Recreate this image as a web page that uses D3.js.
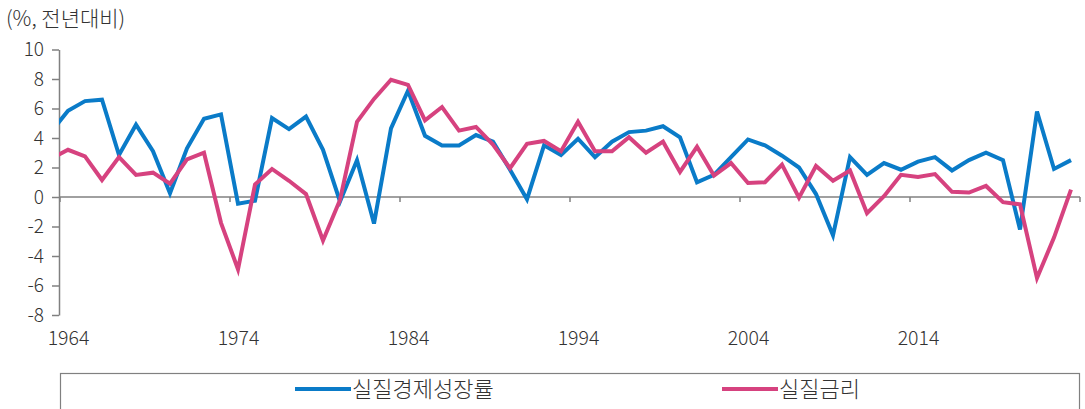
<!DOCTYPE html>
<html>
<head>
<meta charset="utf-8">
<script src="https://cdn.jsdelivr.net/npm/d3@7"></script>
<style>
body { margin: 0; background: #fff; }
text { font-family: "Noto Sans CJK KR", "Noto Sans", sans-serif; font-weight: 300; fill: #333; }
</style>
</head>
<body>
<svg></svg>
<script>
// years 1963..2023 (1963 is cut off at the axis)
const YEARS = d3.range(1963, 2024);

const GROWTH = [
    4.4, 5.85, 6.5, 6.6, 2.85, 4.9, 3.1, 0.25, 3.3, 5.3,
    5.6, -0.45, -0.25, 5.35, 4.6, 5.45, 3.2, -0.3, 2.5, -1.8,
    4.65, 7.2, 4.15, 3.5, 3.5, 4.2, 3.75, 1.85, -0.15, 3.5,
    2.85, 3.95, 2.7, 3.75, 4.4, 4.5, 4.8, 4.05, 1.0, 1.5,
    2.7, 3.9, 3.5, 2.8, 2.0, 0.2, -2.6, 2.7, 1.5, 2.3,
    1.85, 2.4, 2.7, 1.8, 2.5, 3.0, 2.5, -2.2, 5.8, 1.9,
    2.5
];

const REAL_RATE = [
    2.6, 3.2, 2.75, 1.15, 2.7, 1.5, 1.65, 0.9, 2.55, 3.0,
    -1.75, -4.9, 0.85, 1.9, 1.1, 0.2, -2.95, -0.2, 5.1, 6.65,
    7.95, 7.6, 5.2, 6.1, 4.5, 4.75, 3.55, 1.95, 3.6, 3.8,
    3.1, 5.1, 3.1, 3.1, 4.05, 3.0, 3.75, 1.7, 3.4, 1.45,
    2.3, 0.95, 1.0, 2.2, -0.05, 2.1, 1.1, 1.8, -1.1, 0.05,
    1.5, 1.35, 1.55, 0.35, 0.3, 0.75, -0.35, -0.5, -5.5, -2.75,
    0.5
];

const SERIES = [
    {name: "실질경제성장률", values: GROWTH, color: "#0a7bc8"},
    {name: "실질금리", values: REAL_RATE, color: "#d6427f"}
];

const Y_TICKS = [-8, -6, -4, -2, 0, 2, 4, 6, 8, 10];
const X_LABELS = [1964, 1974, 1984, 1994, 2004, 2014];
const X_BREAKS = [1964, 1974, 1984, 1994, 2004, 2014, 2024];

const WIDTH = 1085;
const HEIGHT = 409;
const PLOT = {left: 59, right: 1080, top: 49.5, bottom: 315};

const svg = d3.select('svg')
.attr('width', WIDTH)
.attr('height', HEIGHT)
;

//scales
const xScale = d3.scaleLinear().domain([1964, 2023]).range([68, 68 + 59 * 17]);
const yScale = d3.scaleLinear().domain([-8, 10]).range([PLOT.bottom, PLOT.top]);

//unit label
svg.append('text')
.attr('x', 6)
.attr('y', 26)
.style('font-size', '21px')
.text('(%, 전년대비)')
;

//y axis
const yAxis = svg.append('g')
.attr('transform', `translate(${PLOT.left}, 0)`)
.call(d3.axisLeft(yScale).tickValues(Y_TICKS).tickFormat(d => String(d)).tickSize(7).tickPadding(8).tickSizeOuter(0))
;
yAxis.selectAll('line, path').attr('stroke', '#808080').attr('stroke-width', 1.5);
yAxis.selectAll('text').style('font-size', '19px').attr('fill', '#333');

//zero line with ticks between categories
const zeroAxis = svg.append('g')
.attr('transform', `translate(0, ${yScale(0)})`)
.call(d3.axisBottom(xScale).tickValues(X_BREAKS.map(d => d - 0.5)).tickFormat('').tickSize(5).tickSizeOuter(0))
;
zeroAxis.select('.domain').attr('d', `M${PLOT.left},0H${PLOT.right}`);
zeroAxis.selectAll('line, path').attr('stroke', '#808080').attr('stroke-width', 1.5);

//year labels
const xLabels = svg.append('g')
.attr('transform', `translate(0, ${PLOT.bottom + 13})`)
.call(d3.axisBottom(xScale).tickValues(X_LABELS).tickFormat(d3.format('d')).tickSize(0))
;
xLabels.select('.domain').remove();
xLabels.selectAll('text').style('font-size', '19.5px').attr('fill', '#333');

//clip lines at plot area
svg.append('clipPath')
.attr('id', 'plot-clip')
.append('rect')
.attr('x', PLOT.left)
.attr('y', 0)
.attr('width', PLOT.right - PLOT.left)
.attr('height', HEIGHT)
;

const line = d3.line()
.x((d, i) => xScale(YEARS[i]))
.y(d => yScale(d))
;

svg.append('g')
.attr('clip-path', 'url(#plot-clip)')
.selectAll('.series')
.data(SERIES)
.enter()
.append('path')
.attr('class', 'series')
.attr('d', d => line(d.values))
.attr('fill', 'none')
.attr('stroke', d => d.color)
.attr('stroke-width', 4)
.attr('stroke-linejoin', 'miter')
;

//legend box
svg.append('rect')
.attr('x', 60.5)
.attr('y', 373.5)
.attr('width', 1019)
.attr('height', 60)
.attr('fill', 'none')
.attr('stroke', '#808080')
.attr('stroke-width', 1.2)
;

const legend = svg.selectAll('.legend')
.data(SERIES)
.enter()
.append('g')
.attr('class', 'legend')
.attr('transform', (d, i) => `translate(${i === 0 ? 295 : 722}, 389)`)
;

legend.append('line')
.attr('x1', 0)
.attr('x2', 56)
.attr('stroke', d => d.color)
.attr('stroke-width', 4)
;

legend.append('text')
.attr('x', 57)
.attr('y', 8)
.style('font-size', '22px')
.text(d => d.name)
;
</script>
</body>
</html>
